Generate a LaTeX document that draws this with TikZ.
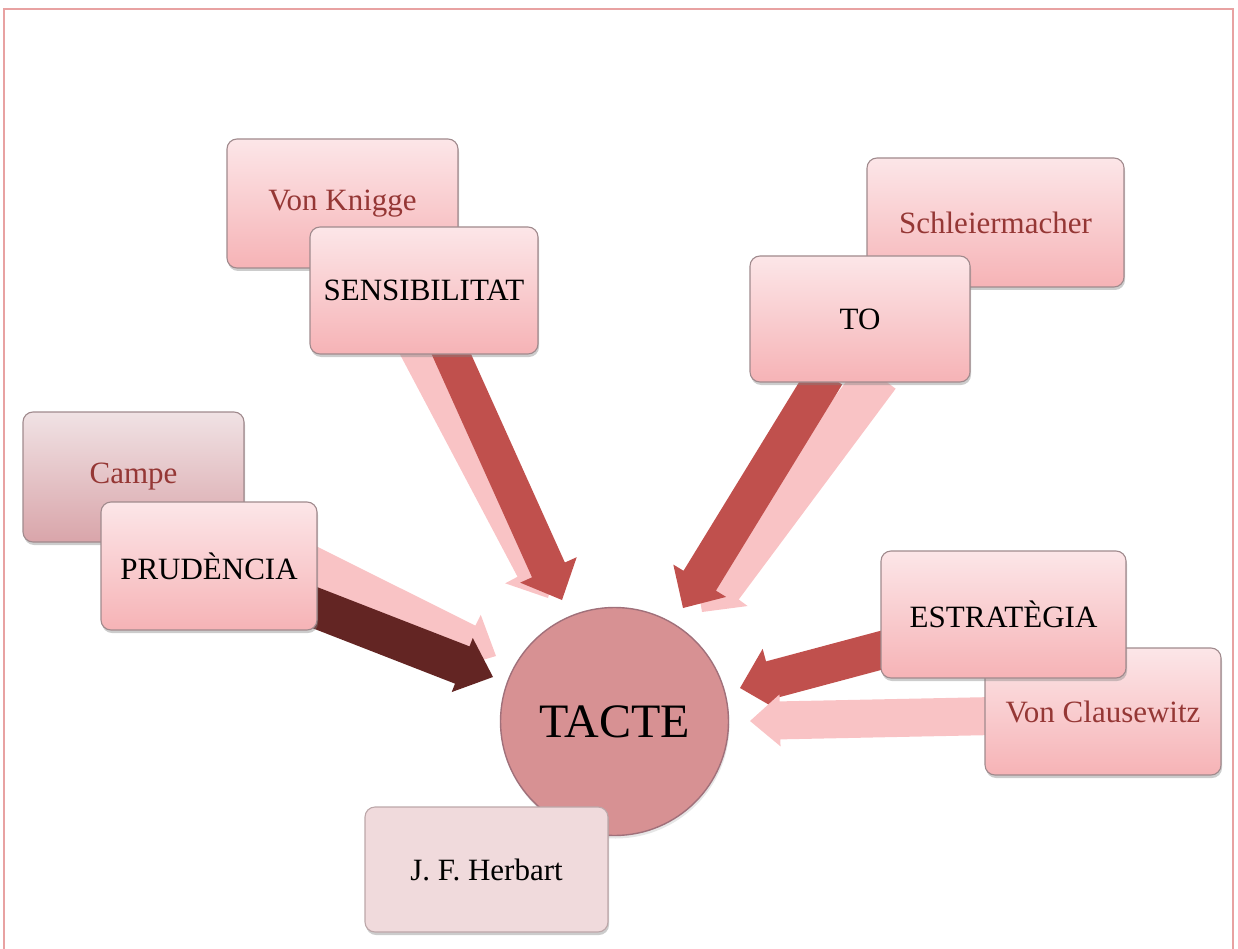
\documentclass[tikz,border=0pt]{standalone}
\usepackage{fontspec}
\setmainfont{Liberation Serif}
\usetikzlibrary{calc,shadows,backgrounds}

\definecolor{framecol}{HTML}{E8A2A2}
\definecolor{cardtop}{HTML}{FCE6E8}
\definecolor{cardbot}{HTML}{F6B3B6}
\definecolor{cardline}{HTML}{A08A8D}
\definecolor{mauvetop}{HTML}{F0E2E4}
\definecolor{mauvebot}{HTML}{D9A5AA}
\definecolor{authorred}{HTML}{953735}
\definecolor{herbartfill}{HTML}{F0DADC}
\definecolor{herbartline}{HTML}{BCA7A9}
\definecolor{circlefill}{HTML}{D79193}
\definecolor{circleline}{HTML}{A0707A}
\definecolor{arrowred}{HTML}{C0504D}
\definecolor{arrowmaroon}{HTML}{632523}
\definecolor{arrowpink}{HTML}{F9C3C5}

\newcommand\cardfont{\fontsize{31}{37}\selectfont}
\newcommand\hubfont{\fontsize{48}{56}\selectfont}

% block arrow: style, tail, tip, half shaft width, half head width, head length
\newcommand\fatarrow[6]{%
  \coordinate (fahead) at ($(#3)!#6!(#2)$);
  \fill[#1] ($(#2)!#4!90:(#3)$) -- ($(fahead)!#4!-90:(#2)$)
    -- ($(fahead)!#5!-90:(#2)$) -- (#3) -- ($(fahead)!#5!90:(#2)$)
    -- ($(fahead)!#4!90:(#2)$) -- ($(#2)!#4!-90:(#3)$) -- cycle;}

\begin{document}
\begin{tikzpicture}[x=1pt,y=-1pt,
  card/.style={draw=cardline, line width=1.1pt, rounded corners=10pt,
    top color=cardtop, bottom color=cardbot, inner sep=0pt, font=\cardfont,
    minimum height=127pt,
    drop shadow={opacity=0.4, shadow xshift=1pt, shadow yshift=-3pt}},
  author/.style={card, text=authorred},
  oldcard/.style={card, top color=mauvetop, bottom color=mauvebot, text=authorred},
  plaincard/.style={card, fill=herbartfill, top color=herbartfill, bottom color=herbartfill, draw=herbartline, text=black},
  hub/.style={circle, minimum size=228pt, inner sep=0pt, fill=circlefill,
    draw=circleline, line width=1.4pt, font=\hubfont,
    drop shadow={opacity=0.2, shadow xshift=1pt, shadow yshift=-3pt}},
  darkarrow/.style={fill=arrowred},
  deeparrow/.style={fill=arrowmaroon},
  lightarrow/.style={fill=arrowpink}]

\useasboundingbox (0,0) rectangle (1238,949);

% page frame
\draw[framecol, line width=1.2pt] (4,949) -- (4,9) -- (1233,9) -- (1233,949);

% secondary (author) boxes
\node[author, minimum width=231pt, minimum height=129pt] (knigge) at (342.5,203.5) {Von Knigge};
\node[author, minimum width=257pt, minimum height=129pt] (schleier) at (995.5,222.5) {Schleiermacher};
\node[oldcard, minimum width=221pt, minimum height=130pt] (campe) at (133.5,477) {Campe};
\node[author, minimum width=236pt] (claus) at (1103,711.5) {Von Clausewitz};

% main concept boxes
\node[card, minimum width=228pt] (sens) at (424,290.5) {SENSIBILITAT};
\node[card, minimum width=220pt, minimum height=126pt] (to) at (860,319) {TO};
\node[card, minimum width=216pt, minimum height=128pt] (prud) at (209,566) {PRUDÈNCIA};
\node[card, minimum width=245pt] (estr) at (1003.5,614.5) {ESTRATÈGIA};

% central idea
\node[hub] (tacte) at (614.5,721.5) {TACTE};
\node[plaincard, minimum width=243pt, minimum height=125pt] (herbart) at (486.5,869.5) {J. F. Herbart};

% arrow ends
\coordinate (sensLightTail) at ($(sens.south)+(-10,-10)$);
\coordinate (sensDarkTail) at ($(sens.south)+(23,-10)$);
\coordinate (toDarkTail) at ($(to.south)+(-34,-8)$);
\coordinate (toLightTail) at ($(to.south)+(18,-7)$);
\coordinate (prudLightTail) at ($(prud.east)+(-12,-5)$);
\coordinate (prudDarkTail) at ($(prud.east)+(-12,38)$);
\coordinate (estrTail) at ($(estr.west)+(13,32.5)$);
\coordinate (clausTail) at ($(claus.west)+(10,4.5)$);

\coordinate (sensLightTip) at (548,598);
\coordinate (sensDarkTip) at (562,600);
\coordinate (toDarkTip) at (683,608);
\coordinate (toLightTip) at (702,612);
\coordinate (prudLightTip) at (496,656);
\coordinate (prudDarkTip) at (493,677);
\coordinate (estrTip) at (740,688);
\coordinate (clausTip) at (750,721);

\begin{pgfonlayer}{background}
  \fatarrow{lightarrow}{sensLightTail}{sensLightTip}{17pt}{31pt}{33pt}
  \fatarrow{darkarrow}{sensDarkTail}{sensDarkTip}{18pt}{31pt}{33pt}
  \fatarrow{lightarrow}{toLightTail}{toLightTip}{22pt}{33pt}{32pt}
  \fatarrow{darkarrow}{toDarkTail}{toDarkTip}{19pt}{31pt}{32pt}
  \fatarrow{lightarrow}{prudLightTail}{prudLightTip}{18pt}{30pt}{32pt}
  \fatarrow{deeparrow}{prudDarkTail}{prudDarkTip}{20pt}{29pt}{33pt}
  \fatarrow{darkarrow}{estrTail}{estrTip}{19pt}{32pt}{32pt}
  \fatarrow{lightarrow}{clausTail}{clausTip}{19pt}{26pt}{30pt}
\end{pgfonlayer}

\end{tikzpicture}
\end{document}
